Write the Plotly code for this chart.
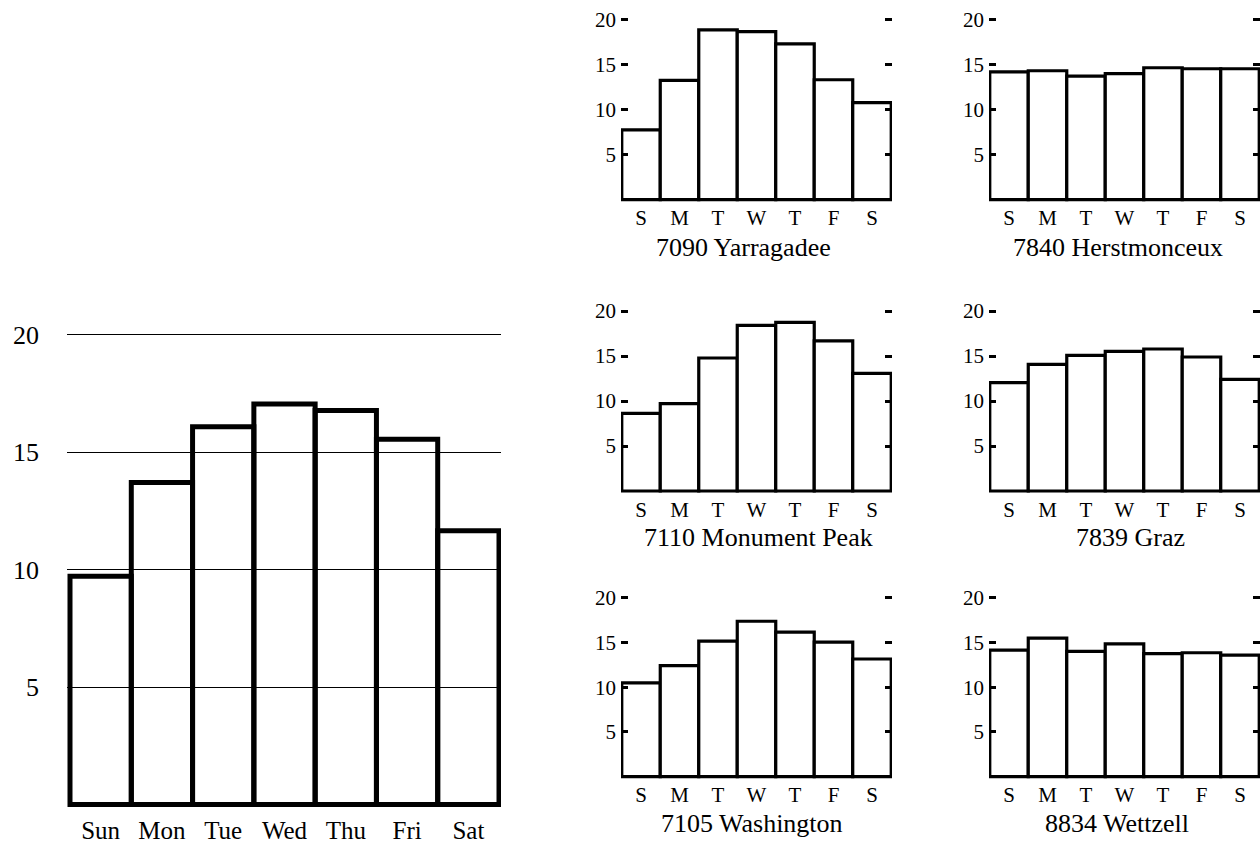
import plotly.graph_objects as go

W, H = 1260, 845
FONT = "Liberation Serif"

# ---------------- data ----------------
days_long = ["Sun", "Mon", "Tue", "Wed", "Thu", "Fri", "Sat"]
days_short = ["S", "M", "T", "W", "T", "F", "S"]
y_ticks = [5, 10, 15, 20]

overall = [9.71, 13.7, 16.07, 17.04, 16.77, 15.54, 11.65]

yarragadee = [7.75, 13.26, 18.88, 18.68, 17.32, 13.33, 10.79]
herstmonceux = [14.2, 14.33, 13.74, 14.0, 14.66, 14.55, 14.55]
monument_peak = [8.63, 9.7, 14.78, 18.4, 18.74, 16.67, 13.07]
graz = [12.04, 14.07, 15.07, 15.52, 15.78, 14.89, 12.41]
washington = [10.48, 12.4, 15.15, 17.37, 16.15, 15.04, 13.15]
wettzell = [14.15, 15.48, 14.0, 14.85, 13.74, 13.85, 13.59]

station_names = ["7090 Yarragadee", "7840 Herstmonceux", "7110 Monument Peak",
                 "7839 Graz", "7105 Washington", "8834 Wettzell"]
station_values = [yarragadee, herstmonceux, monument_peak, graz, washington, wettzell]


def xdom(l, r):
    return [max(0, l / W), min(1, r / W)]


def ydom(bottom, top):
    return [max(0, 1 - bottom / H), min(1, 1 - top / H)]


fig = go.Figure()
layout = dict(
    width=W, height=H,
    margin=dict(l=0, r=0, t=0, b=0, autoexpand=False),
    paper_bgcolor="white", plot_bgcolor="rgba(0,0,0,0)",
    showlegend=False,
    font=dict(family=FONT, color="black"),
    annotations=[],
)

# ---------------- big overall chart ----------------
xs = list(range(7))
fig.add_trace(go.Bar(
    x=xs, y=overall, width=1,
    marker=dict(color="rgba(0,0,0,0)", line=dict(color="black", width=5)),
    xaxis="x", yaxis="y", hoverinfo="skip",
))
big_zero, big_s = 804.5, 23.5
big_lo, big_hi = -0.2, 20.4
bx_l, bx_r = 70.0, 499.0
bu = (bx_r - bx_l) / 7
x_lo = -0.5 - 3.0 / bu
x_hi = 6.5 + 2.0 / bu
layout["xaxis"] = dict(
    domain=xdom(bx_l + (x_lo + 0.5) * bu, bx_r + (x_hi - 6.5) * bu), range=[x_lo, x_hi],
    tickvals=xs, ticktext=days_long, ticks="", showline=False, showgrid=False,
    zeroline=False, tickfont=dict(size=25, family=FONT), ticklabelstandoff=4,
    fixedrange=True, anchor="y", automargin=False,
)
layout["yaxis"] = dict(
    domain=ydom(big_zero - big_lo * big_s, big_zero - big_hi * big_s),
    range=[big_lo, big_hi], tickvals=y_ticks, ticks="", showline=False,
    showgrid=True, gridcolor="black", gridwidth=1.3, zeroline=False,
    tickfont=dict(size=26, family=FONT), ticklabelstandoff=27, anchor="x",
    automargin=False,
)

# ---------------- small station charts ----------------
cols = [(621, 892), (989, 1260)]
rows = [(199.7, 9.0), (491.0, 9.0), (776.7, 8.95)]
title_y = [247, 537, 823]
title_x = [[743, 1118], [758, 1130], [752, 1117]]
s_lo, s_hi = -0.4, 20.5

for i, (name, vals) in enumerate(zip(station_names, station_values)):
    r, c = divmod(i, 2)
    n = i + 2
    xl, xr = cols[c]
    zero, s = rows[r]
    fig.add_trace(go.Bar(
        x=xs, y=vals, width=1,
        marker=dict(color="white", line=dict(color="black", width=3.2)),
        xaxis=f"x{n}", yaxis=f"y{n}", hoverinfo="skip",
    ))
    layout[f"xaxis{n}"] = dict(
        domain=xdom(xl, xr), range=[-0.52, 6.52], tickvals=xs, ticktext=days_short,
        ticks="", showline=False, showgrid=False, zeroline=False,
        tickfont=dict(size=21, family=FONT), anchor=f"y{n}", automargin=False,
    )
    layout[f"yaxis{n}"] = dict(
        domain=ydom(zero - s_lo * s, zero - s_hi * s), range=[s_lo, s_hi],
        tickvals=y_ticks, ticks="inside", ticklen=7, tickwidth=3, tickcolor="black",
        mirror="ticks", showline=False, showgrid=False, zeroline=False,
        tickfont=dict(size=21, family=FONT), ticklabelstandoff=4, anchor=f"x{n}",
        automargin=False,
    )
    layout["annotations"].append(dict(
        text=name, x=title_x[r][c] / W, y=1 - title_y[r] / H, xref="paper", yref="paper",
        xanchor="center", yanchor="middle", showarrow=False,
        font=dict(size=26, family=FONT, color="black"),
    ))

fig.update_layout(**layout)
fig.write_html(
    "out.html",
    config={"displayModeBar": False},
    post_script="document.body.style.margin='0px';document.body.style.overflow='hidden';",
)
